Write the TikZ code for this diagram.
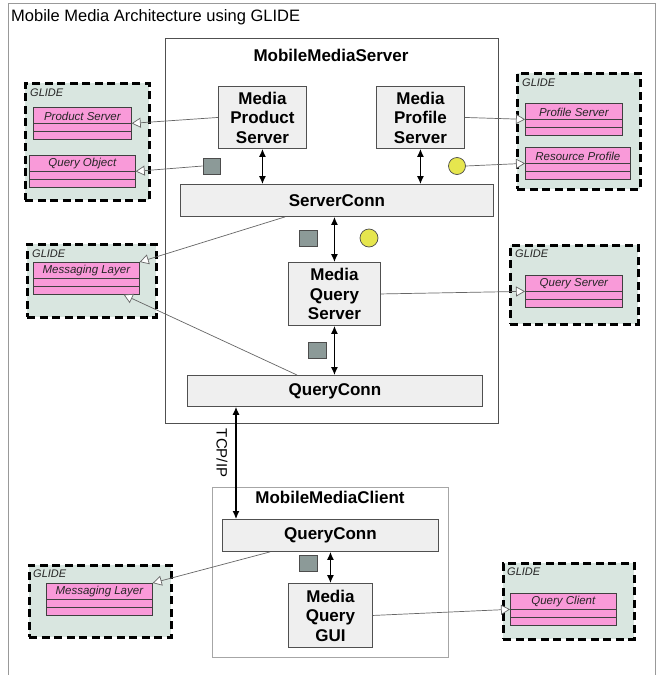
\documentclass[tikz,border=0pt]{standalone}
\usepackage{fontspec}
\setmainfont{Liberation Sans}
\usetikzlibrary{arrows.meta,calc}
\definecolor{boxfill}{HTML}{EFEFEF}
\definecolor{boxline}{HTML}{505050}
\definecolor{pkgfill}{HTML}{D9E6E0}
\definecolor{clsfill}{HTML}{F99AD9}
\definecolor{sqfill}{HTML}{8C9A98}
\definecolor{ylw}{HTML}{E6E64E}
\definecolor{connc}{HTML}{666666}
\newcommand\umlclass[5]{%
  \node[cls, minimum width=#4] (#1) at (#2,#3) {};
  \draw[black!75, line width=0.7pt] ($(#1.north west)+(0,16.5)$) -- ($(#1.north east)+(0,16.5)$);
  \draw[black!75, line width=0.7pt] ($(#1.north west)+(0,24.5)$) -- ($(#1.north east)+(0,24.5)$);
  \node[clsname] (#1-t) at ($(#1.north)+(0,9)$) {#5};
}
\begin{document}
\begin{tikzpicture}[x=1pt,y=-1pt,
  comp/.style={draw=boxline, line width=0.9pt, fill=boxfill, inner sep=0pt, anchor=north west, align=center, font=\fontsize{17}{19.5}\selectfont\bfseries},
  container/.style={draw=#1, line width=0.8pt, fill=white, inner sep=0pt, anchor=north west},
  ctitle/.style={font=\fontsize{17}{19.5}\selectfont\bfseries, inner sep=0pt},
  pkg/.style={draw=black, line width=2.8pt, dash pattern=on 8pt off 4.5pt, fill=pkgfill, inner sep=0pt, anchor=north west},
  glide/.style={font=\fontsize{11}{13}\selectfont\itshape, anchor=west, inner sep=0pt, text=black!85},
  cls/.style={draw=black!75, line width=0.7pt, fill=clsfill, inner sep=0pt, anchor=north west, minimum height=32},
  clsname/.style={font=\fontsize{11.5}{13}\selectfont\itshape, inner sep=0pt, text=black!85},
  sq/.style={draw=black!70, line width=0.7pt, fill=sqfill, inner sep=0pt, minimum width=17, minimum height=16},
  dot/.style={circle, draw=black!70, line width=0.7pt, fill=ylw, inner sep=0pt, minimum size=17},
  realize/.style={draw=connc, line width=0.7pt, -{Triangle[length=9pt,width=10pt,fill=white]}},
  flow/.style={draw=black, line width=1.1pt, {Latex[length=8pt,width=7pt]}-{Latex[length=8pt,width=7pt]}}
]
\useasboundingbox (0,0) rectangle (657,675);
% outer frame
\draw[gray!80, line width=0.8pt] (8,675) -- (8,3) -- (655.5,3) -- (655.5,675);
\node[anchor=west, inner sep=0pt, font=\fontsize{16.5}{19}\selectfont] (title) at (11,17) {Mobile Media Architecture using GLIDE};

% containers
\node[container=boxline, minimum width=333, minimum height=385] (server) at (165,38) {};
\node[ctitle] (servert) at (331,55) {MobileMediaServer};
\node[container=gray!70, minimum width=236, minimum height=170] (client) at (212,487) {};
\node[ctitle] (clientt) at (330,497) {MobileMediaClient};

% components
\node[comp, minimum width=88, minimum height=62] (mps) at (218,86) {Media\\Product\\Server};
\node[comp, minimum width=88, minimum height=62] (mprof) at (376,86) {Media\\Profile\\Server};
\node[comp, minimum width=313, minimum height=32] (sc) at (180,184) {ServerConn};
\node[comp, minimum width=92, minimum height=63] (mqs) at (288,262) {Media\\Query\\Server};
\node[comp, minimum width=295, minimum height=31] (qc) at (187,375) {QueryConn};
\node[comp, minimum width=216, minimum height=32] (cqc) at (222,519) {QueryConn};
\node[comp, minimum width=84, minimum height=64] (gui) at (288,583) {Media\\Query\\GUI};

% packages
\node[pkg, minimum width=124, minimum height=117] (p1) at (24,82) {};
\node[glide] (p1t) at (30,92.5) {GLIDE};
\node[pkg, minimum width=123, minimum height=116] (p2) at (516,72) {};
\node[glide] (p2t) at (522,82.5) {GLIDE};
\node[pkg, minimum width=129, minimum height=73] (p3) at (26,243) {};
\node[glide] (p3t) at (32,253.5) {GLIDE};
\node[pkg, minimum width=128, minimum height=79] (p4) at (509,244) {};
\node[glide] (p4t) at (515,254) {GLIDE};
\node[pkg, minimum width=142, minimum height=72] (p5) at (28,564) {};
\node[glide] (p5t) at (33,574) {GLIDE};
\node[pkg, minimum width=131, minimum height=76] (p6) at (502,562) {};
\node[glide] (p6t) at (507,572) {GLIDE};

% classes
\umlclass{ps}{33}{107}{98}{Product Server}
\umlclass{qo}{29}{155}{106}{Query Object}
\umlclass{prs}{525}{103}{97}{Profile Server}
\umlclass{rp}{525}{147}{105}{Resource Profile}
\umlclass{ml1}{33}{262}{106}{Messaging Layer}
\umlclass{qs}{525}{275}{97}{Query Server}
\umlclass{ml2}{46}{583}{106}{Messaging Layer}
\umlclass{qcl}{510}{593}{106}{Query Client}

% data markers
\node[sq] (sq1) at (211.5,166) {};
\node[dot] (c1) at (457,166) {};
\node[sq, minimum width=18] (sq2) at (308,238) {};
\node[dot, minimum size=18] (c2) at (369,238) {};
\node[sq, minimum width=18] (sq3) at (317,350.5) {};
\node[sq, minimum width=18] (sq4) at (308,563.5) {};

% flows
\draw[flow] (mps.south) -- (mps.south |- sc.north);
\draw[flow] (mprof.south) -- (mprof.south |- sc.north);
\draw[flow] (sc.south -| mqs.north) -- (mqs.north);
\draw[flow] (mqs.south) -- (mqs.south |- qc.north);
\coordinate (tcpx) at (236,0);
\draw[flow] (qc.south -| tcpx) -- (cqc.north -| tcpx);
\node[rotate=-90, inner sep=0pt, font=\fontsize{15}{17}\selectfont] (tcp) at (222,453) {TCP/IP};
\draw[flow] (cqc.south -| gui.north) -- (gui.north);

% realizations
\coordinate (scfoot) at ($(sc.south west)+(105,0)$);
\coordinate (qchead) at ($(qc.north west)+(110,0)$);
\coordinate (ml1foot) at ($(ml1.south east)+(-16,0)$);
\coordinate (cqcfoot) at ($(cqc.south west)+(48,0)$);
\draw[realize] (mps.west) -- (ps.east);
\draw[realize] (sq1.west) -- (qo.east);
\draw[realize] (mprof.east) -- (prs.west);
\draw[realize] (c1.east) -- (rp.west);
\draw[realize] (scfoot) -- (ml1.north east);
\draw[realize] (qchead) -- (ml1foot);
\draw[realize] (mqs.east) -- (qs.west);
\draw[realize] (cqcfoot) -- (ml2.north east);
\draw[realize] (gui.east) -- (qcl.west);
\end{tikzpicture}
\end{document}
